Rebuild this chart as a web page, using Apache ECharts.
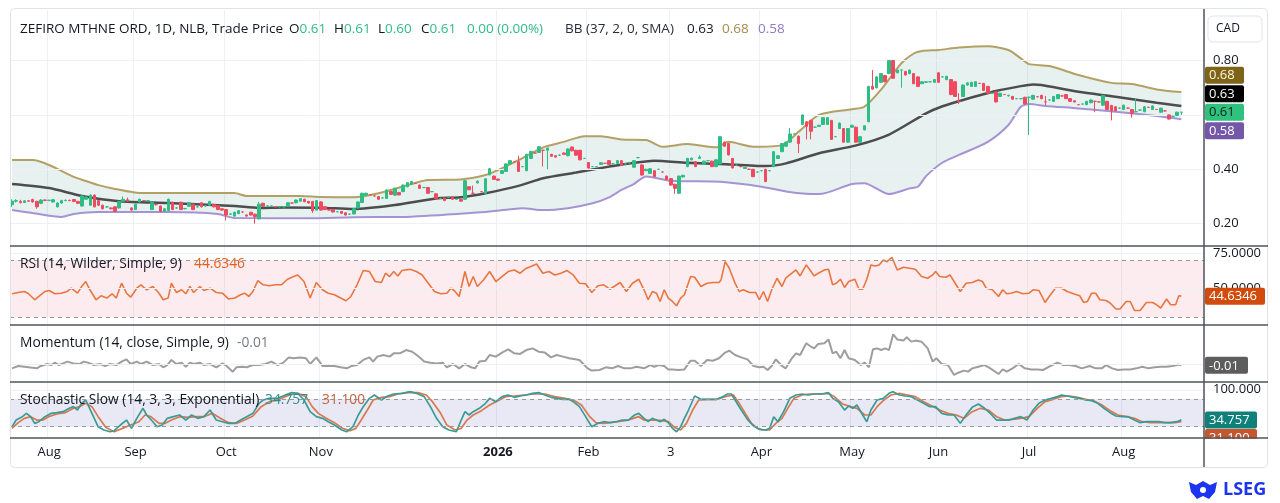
<!DOCTYPE html>
<html>
<head>
<meta charset="utf-8">
<title>ZEFIRO MTHNE ORD</title>
<script src="https://cdn.jsdelivr.net/npm/echarts@6/dist/echarts.min.js"></script>
<style>
  html, body { margin: 0; padding: 0; background: #fff; }
  #chart { width: 1280px; height: 503px; }
</style>
</head>
<body>
<div id="chart"></div>
<script>
// daily candles, one row per trading day: [open, close, low, high]
var candles = [
  [.270,.283,.262,.290],[.283,.285,.278,.290],[.282,.278,.274,.288],[.278,.284,.276,.287],[.284,.283,.280,.286],
  [.289,.280,.278,.292],[.282,.262,.255,.285],[.275,.287,.272,.290],[.287,.286,.283,.289],[.286,.286,.283,.288],
  [.280,.288,.278,.291],[.262,.276,.260,.279],[.276,.285,.274,.288],[.285,.286,.283,.289],[.286,.285,.283,.288],
  [.289,.282,.279,.291],[.282,.275,.272,.284],[.265,.302,.263,.305],[.290,.298,.288,.300],[.268,.305,.266,.308],
  [.305,.262,.260,.308],[.285,.268,.265,.287],[.268,.255,.252,.270],[.262,.262,.259,.264],[.258,.255,.253,.260],
  [.262,.245,.243,.264],[.258,.282,.256,.284],[.282,.290,.280,.300],[.288,.283,.281,.296],[.258,.250,.248,.260],
  [.252,.272,.250,.274],[.280,.290,.278,.292],[.285,.285,.283,.287],[.285,.285,.283,.287],[.252,.279,.250,.281],
  [.270,.270,.268,.272],[.265,.245,.242,.267],[.245,.255,.243,.257],[.248,.290,.246,.292],[.279,.252,.250,.281],
  [.258,.258,.256,.260],[.279,.252,.250,.281],[.255,.256,.253,.258],[.264,.277,.262,.279],[.272,.252,.250,.274],
  [.262,.262,.260,.264],[.277,.262,.260,.279],[.265,.266,.263,.268],[.268,.282,.266,.284],[.271,.262,.260,.273],
  [.267,.252,.250,.269],[.255,.250,.248,.257],[.252,.232,.212,.254],[.235,.236,.233,.238],[.228,.242,.226,.244],
  [.237,.248,.235,.250],[.243,.243,.241,.245],[.232,.228,.226,.234],[.242,.232,.230,.244],[.235,.226,.200,.237],
  [.218,.272,.216,.280],[.275,.264,.262,.277],[.265,.265,.263,.267],[.265,.265,.263,.267],[.262,.262,.260,.264],
  [.262,.262,.260,.264],[.262,.262,.260,.264],[.264,.277,.262,.279],[.276,.276,.274,.278],[.277,.287,.275,.289],
  [.283,.292,.281,.294],[.290,.281,.279,.292],[.282,.276,.274,.284],[.282,.248,.240,.284],[.250,.285,.248,.287],
  [.280,.250,.248,.283],[.262,.252,.250,.264],[.251,.250,.248,.253],[.252,.243,.241,.254],[.244,.244,.242,.246],
  [.245,.238,.236,.247],[.240,.232,.230,.242],[.235,.235,.233,.237],[.236,.255,.234,.257],[.258,.280,.256,.282],
  [.278,.312,.276,.314],[.305,.312,.303,.314],[.306,.306,.304,.308],[.302,.302,.300,.304],[.300,.290,.288,.302],
  [.295,.295,.293,.297],[.293,.324,.291,.326],[.318,.308,.306,.320],[.305,.330,.303,.332],[.315,.306,.304,.317],
  [.318,.342,.316,.344],[.336,.351,.334,.353],[.345,.355,.343,.357],[.348,.348,.346,.350],[.342,.330,.328,.344],
  [.333,.333,.331,.335],[.333,.312,.310,.335],[.318,.318,.316,.320],[.310,.292,.290,.312],[.293,.293,.291,.295],
  [.295,.285,.283,.297],[.297,.297,.295,.299],[.299,.290,.288,.301],[.290,.290,.288,.292],[.289,.283,.281,.291],
  [.290,.358,.288,.360],[.336,.325,.323,.338],[.312,.312,.310,.340],[.350,.356,.348,.360],[.318,.318,.316,.320],
  [.312,.365,.310,.367],[.380,.402,.378,.404],[.375,.363,.361,.377],[.364,.360,.358,.366],[.385,.395,.383,.397],
  [.392,.420,.390,.422],[.420,.432,.418,.434],[.428,.428,.426,.430],[.428,.392,.390,.450],[.410,.410,.408,.412],
  [.395,.455,.393,.457],[.440,.466,.438,.468],[.460,.460,.458,.462],[.462,.483,.460,.485],[.470,.470,.410,.472],
  [.470,.478,.400,.480],[.455,.448,.446,.457],[.450,.445,.443,.452],[.452,.452,.450,.454],[.460,.455,.453,.462],
  [.450,.475,.448,.477],[.482,.468,.466,.484],[.470,.452,.450,.472],[.470,.435,.433,.472],[.440,.440,.438,.442],
  [.425,.405,.403,.427],[.410,.410,.408,.412],[.410,.410,.408,.412],[.418,.424,.416,.426],[.422,.422,.420,.424],
  [.432,.418,.416,.434],[.420,.420,.418,.422],[.422,.432,.420,.434],[.432,.414,.412,.434],[.420,.420,.418,.422],
  [.424,.424,.422,.426],[.408,.432,.406,.434],[.443,.443,.441,.445],[.416,.379,.377,.418],[.395,.400,.393,.402],
  [.385,.402,.383,.404],[.395,.373,.371,.397],[.400,.400,.398,.402],[.390,.390,.388,.392],[.375,.363,.361,.377],
  [.366,.342,.340,.368],[.345,.330,.310,.347],[.312,.375,.310,.377],[.372,.378,.370,.380],[.410,.440,.408,.442],
  [.435,.441,.433,.443],[.428,.410,.408,.430],[.440,.445,.438,.452],[.420,.430,.418,.432],[.432,.432,.430,.434],
  [.430,.410,.408,.432],[.410,.435,.408,.437],[.420,.520,.418,.522],[.500,.485,.483,.502],[.495,.453,.451,.497],
  [.440,.405,.403,.442],[.415,.415,.413,.417],[.410,.410,.408,.412],[.403,.407,.401,.409],[.400,.400,.398,.402],
  [.400,.373,.371,.402],[.390,.390,.388,.392],[.395,.395,.393,.397],[.400,.355,.353,.402],[.395,.395,.393,.397],
  [.410,.465,.408,.467],[.440,.450,.438,.452],[.465,.495,.463,.497],[.485,.500,.483,.502],[.500,.530,.498,.552],
  [.530,.530,.528,.532],[.522,.495,.460,.524],[.565,.600,.563,.602],[.575,.558,.510,.577],[.580,.540,.510,.582],
  [.555,.555,.553,.557],[.558,.562,.556,.564],[.565,.590,.563,.592],[.565,.590,.563,.592],[.580,.510,.508,.582],
  [.520,.520,.518,.522],[.550,.570,.548,.572],[.550,.500,.498,.552],[.500,.550,.498,.552],[.555,.562,.553,.564],
  [.555,.500,.498,.557],[.500,.520,.498,.522],[.545,.560,.543,.562],[.575,.705,.573,.707],[.705,.695,.693,.765],
  [.700,.740,.698,.742],[.720,.752,.718,.754],[.745,.722,.720,.747],[.752,.800,.750,.802],[.800,.735,.733,.802],
  [.755,.765,.753,.767],[.765,.765,.700,.768],[.760,.747,.745,.762],[.752,.765,.750,.767],[.752,.715,.713,.754],
  [.740,.705,.703,.742],[.715,.722,.713,.724],[.720,.722,.718,.724],[.722,.722,.720,.724],[.720,.730,.718,.732],
  [.755,.720,.718,.757],[.740,.740,.738,.742],[.730,.742,.728,.744],[.730,.675,.673,.732],[.722,.668,.666,.724],
  [.650,.650,.640,.680],[.668,.710,.666,.712],[.710,.718,.708,.720],[.705,.720,.703,.722],[.705,.722,.703,.724],
  [.716,.716,.714,.718],[.716,.690,.688,.718],[.705,.680,.678,.707],[.680,.680,.678,.682],[.685,.648,.646,.687],
  [.668,.680,.666,.682],[.675,.675,.673,.677],[.670,.672,.668,.674],[.668,.658,.656,.670],[.660,.660,.658,.662],
  [.660,.660,.658,.662],[.665,.640,.638,.667],[.665,.665,.526,.667],[.658,.672,.656,.674],[.667,.667,.665,.669],
  [.672,.660,.658,.674],[.648,.648,.635,.670],[.655,.655,.653,.657],[.650,.668,.648,.670],[.660,.675,.658,.677],
  [.670,.670,.668,.672],[.675,.660,.658,.677],[.660,.650,.648,.662],[.652,.648,.646,.654],[.638,.638,.636,.640],
  [.640,.640,.638,.642],[.638,.650,.636,.652],[.645,.655,.643,.657],[.650,.650,.610,.652],[.648,.648,.646,.650],
  [.636,.672,.634,.674],[.650,.620,.618,.652],[.635,.615,.580,.637],[.630,.615,.613,.632],[.625,.625,.623,.627],
  [.620,.636,.618,.638],[.625,.625,.623,.627],[.620,.605,.590,.622],[.612,.612,.610,.660],[.618,.618,.616,.620],
  [.612,.630,.610,.632],[.628,.628,.626,.630],[.620,.633,.618,.635],[.620,.620,.618,.622],[.610,.625,.608,.627],
  [.615,.615,.613,.617],[.600,.585,.583,.602],[.595,.595,.593,.597],[.598,.610,.596,.612],[.610,.610,.600,.610]
];

// Bollinger band (37, 2) lines: [bar index, price]
var bbUpper = [[0,.434],[5,.434],[9,.416],[15,.372],[18,.357],[21,.342],[25,.328],[31,.313],[54,.313],[57,.302],
  [70,.302],[75,.298],[83,.297],[89,.312],[97,.346],[101,.361],[109,.363],[115,.379],[118,.397],[123,.434],
  [129,.481],[134,.501],[139,.522],[143,.522],[148,.510],[154,.508],[158,.483],[164,.493],[171,.481],[174,.501],
  [180,.483],[187,.489],[191,.538],[196,.600],[204,.621],[207,.630],[211,.692],[216,.790],[219,.826],[221,.835],
  [225,.839],[230,.848],[237,.853],[242,.839],[245,.808],[247,.787],[252,.780],[259,.747],[267,.718],[272,.714],
  [278,.694],[284,.684]];
var bbMiddle = [[0,.346],[9,.331],[17,.302],[26,.283],[38,.276],[54,.265],[60,.258],[66,.260],[75,.259],[83,.254],
  [93,.269],[103,.293],[109,.297],[115,.312],[123,.339],[129,.367],[137,.388],[145,.410],[149,.420],[156,.432],
  [164,.424],[172,.420],[183,.412],[188,.422],[196,.459],[205,.488],[213,.528],[222,.606],[226,.632],[231,.655],
  [239,.688],[245,.706],[248,.712],[250,.710],[259,.685],[268,.667],[278,.645],[284,.633]];
var bbLower = [[0,.250],[5,.239],[12,.225],[15,.236],[21,.243],[38,.243],[50,.236],[54,.221],[72,.220],[83,.224],
  [97,.226],[113,.241],[121,.253],[124,.257],[129,.250],[135,.257],[141,.275],[145,.297],[148,.324],[151,.346],
  [154,.374],[160,.358],[172,.354],[182,.336],[190,.314],[196,.309],[204,.346],[207,.349],[213,.309],[218,.330],
  [220,.336],[222,.375],[226,.425],[230,.453],[237,.501],[242,.563],[245,.630],[247,.640],[251,.633],[259,.624],
  [268,.612],[278,.596],[284,.584]];

// RSI (14) : [bar index, value]
var rsi = [[0,46.3],[1.5,47.2],[3,47.9],[4,46.3],[5.5,42.1],[6.5,44.4],[8,47.9],[9,48.6],[10.4,46.3],[11.9,46.7],
  [13.4,47.9],[14.4,50.2],[15.9,46.7],[16.9,51.4],[17.9,54.9],[18.9,49.1],[20.4,42.1],[21.6,44.9],[23,43.3],[24.3,46.3],
  [25.3,43.3],[26.6,53.7],[27.8,46.7],[28.8,43.9],[30.3,50.2],[31.3,52.6],[32.7,49.1],[34.2,51.4],[35.7,46.7],[36.7,42.1],
  [37.9,43.3],[38.7,53.7],[39.9,47.2],[41.2,49.1],[42.2,46.3],[43.2,51.4],[44.1,47.2],[45.6,51.4],[46.6,48.6],[48.1,50.2],
  [49.6,47.2],[51.1,46.7],[52.6,42.6],[54.1,43.3],[55.5,45.6],[56.5,46.7],[57.5,44.4],[58.5,47.9],[59.7,55.6],[61,52.6],
  [62.5,51.9],[63.9,52.6],[65.4,52.6],[66.9,56.5],[68.4,58.4],[69.4,59.5],[70.9,54.9],[72.4,43.3],[73.9,54.2],[75.4,49.1],
  [76.8,46.7],[78.3,45.6],[79.8,43.3],[81.1,41.4],[82.3,44.4],[83.8,52.6],[85.3,62.6],[86.8,61.9],[88.2,54.9],[89.7,54.2],
  [90.7,60.7],[91.7,58.4],[92.7,61.9],[93.7,58.8],[94.7,62.6],[96.7,63.5],[98.2,61.9],[99.6,59.5],[101.1,53.7],[102.6,47.9],
  [104.1,46.3],[105.6,46.7],[106.6,50.2],[107.6,47.9],[108.6,44.4],[110,61.9],[111,51.4],[112,58.4],[113,51.4],[114.5,56],
  [116,61.9],[117.5,54.9],[119,58.4],[120.5,61.9],[122,63],[123.4,60.7],[124.9,64.2],[125.9,65.3],[127.4,67.2],[128.9,60.7],
  [130.4,61.9],[131.8,59.5],[133.3,60.7],[134.8,62.6],[136.3,59.5],[137.8,53.7],[139.3,53.3],[140.8,47.2],[142.3,51.9],[143.7,52.6],
  [145.2,49.5],[146.2,51.4],[147.7,54.2],[149.2,47.9],[150.7,53.7],[152.2,56.5],[153.5,49.1],[154.5,42.1],[155.5,47.9],[156.5,46.7],
  [157.4,40.9],[158.4,49.1],[159.4,43.3],[160.4,40.9],[161.4,37.9],[162.4,43.3],[163.3,45.6],[164.8,58.4],[165.8,57.9],[167.3,51.4],
  [168.8,53.7],[170.2,54.2],[171.7,54.2],[172.2,56],[173.2,68.8],[174.2,64.2],[175.6,53.7],[176.6,47.9],[177.6,49.1],[179.1,47.2],
  [180.6,47.2],[181.5,42.1],[182.5,47.9],[183.5,40.9],[184.5,49.1],[185.8,57.2],[187,51.4],[187.9,57.2],[189.4,60.7],[190.4,63],
  [191.4,58.8],[192.9,66.5],[193.8,63],[194.8,58.8],[195.8,60.7],[197.3,63],[198.3,63.5],[199.3,52.6],[200.2,53.7],[201.2,56.5],
  [202.2,50.7],[203.2,54.9],[204.7,56.5],[205.7,49.5],[206.6,49.5],[207.6,56.5],[208.6,66.5],[209.6,65.8],[210.6,66.5],[211.6,70],
  [212.5,68.8],[213.7,71.9],[215,63],[216.5,64.9],[218,64.2],[219.4,63.5],[220.9,58.4],[222.4,57.2],[223.6,59.5],[224.3,61.9],
  [225.3,58.4],[226.8,57.9],[227.8,59.5],[228.8,54.9],[230.3,47.9],[231.7,53.7],[233.2,54.2],[234.7,56],[235.7,54.9],[236.6,50.2],
  [238.1,49.1],[239.6,44.4],[240.6,49.1],[241.6,46.3],[242.6,46.7],[244,47.9],[245.5,46.3],[247,46.7],[248,49.1],[249.4,48.6],
  [250.9,40.2],[251.9,44.4],[253.4,50.2],[254.9,50.2],[256.3,47.9],[257.8,46.3],[259.3,44.9],[260.3,40.2],[261.2,40.9],[262.2,46.7],
  [263.2,46.7],[264.2,42.1],[265.7,41.6],[266.7,39.8],[268.1,35.6],[269.1,35.6],[270.6,40.9],[271.6,40.9],[272.6,34.6],[274,34.6],
  [275.5,40.2],[277,40.2],[278,38.6],[279,36.3],[280.4,42.6],[281.4,38.6],[282.6,38.6],[283.4,44.9],[284,44.6346]];

// Momentum (14) : [bar index, value]
var momentum = [[0,-.029],[1.5,-.013],[3,-.018],[4.5,-.024],[6,-.029],[7,-.013],[8.5,0],[9.5,-.007],[10.4,.009],[11.4,-.007],
  [12.4,.004],[13.4,.016],[14.9,.004],[16.4,0],[17.4,.016],[18.4,.009],[19.9,-.007],[21.4,0],[22.6,-.013],[23.8,0],
  [25.3,-.007],[26.6,.016],[27.8,.031],[28.8,0],[30.3,.016],[31.3,0],[32.7,.016],[34.2,-.007],[35.7,0],[36.7,-.022],
  [37.7,-.007],[38.7,.027],[39.9,0],[41.2,.009],[42.2,-.018],[43.2,.009],[44.1,0],[45.6,.009],[46.6,-.007],[48.1,0],
  [49.6,-.022],[51.1,.004],[52.1,-.013],[53.6,-.051],[54.5,-.022],[56,-.018],[57,-.022],[58.5,-.007],[60,-.007],[61.5,0],
  [63,.016],[64.5,-.007],[65.9,.009],[67.2,.044],[68.4,.038],[69.9,.044],[71.4,.038],[72.4,0],[73.9,.044],[75.4,-.013],
  [76.8,-.013],[78.3,-.013],[79.8,-.022],[81.3,-.029],[82.5,-.013],[83.8,-.007],[85.3,.027],[86.8,.044],[87.7,.016],[88.7,.049],
  [90.2,.06],[91.7,.049],[92.7,.071],[94.2,.071],[95.7,.093],[97.2,.082],[98.6,.053],[100.1,.016],[101.6,.009],[103.1,.004],
  [104.6,.009],[105.6,-.022],[107.1,0],[108.6,-.029],[110,0],[111.5,-.022],[112.5,-.029],[113.5,.016],[115,.022],[116,.06],
  [117.5,.049],[119,.076],[120.5,.098],[122,.071],[123.4,.067],[124.9,.093],[126.4,.104],[127.9,.082],[129.4,.076],[130.9,.044],
  [132.3,.06],[133.8,.049],[135.3,.038],[136.8,.031],[137.8,.027],[139.8,-.029],[140.8,-.044],[142.7,-.04],[144.2,-.022],[145.7,-.029],
  [147.2,-.013],[148.7,-.029],[150.2,-.029],[151.7,-.018],[153.5,-.029],[155,-.007],[156,-.018],[157,-.007],[158.4,-.013],[159.4,-.036],
  [160.4,-.036],[161.9,-.04],[163.3,-.036],[164.8,.022],[165.8,.022],[167.3,-.013],[168.8,.027],[170.2,.022],[171.7,.038],[173.2,.076],
  [174.2,.089],[175.6,.06],[177.1,.044],[178.6,.031],[180.1,-.013],[181.5,-.022],[182.5,-.018],[183.5,-.04],[184.5,-.013],[185.5,.031],
  [187,-.013],[187.9,-.029],[189.4,.038],[190.4,.071],[191.4,.06],[192.9,.138],[193.8,.12],[194.8,.104],[195.8,.133],[197.3,.138],
  [198.3,.164],[199.3,.071],[200.2,.082],[201.2,.038],[202.2,.093],[203.2,.038],[204.7,.027],[206.1,-.007],[207.1,.009],[208.1,-.022],
  [209.1,.098],[210.1,.104],[211.1,.093],[212.1,.104],[213,.093],[214,.198],[215,.164],[216.5,.156],[217.3,.178],[218.4,.149],
  [219.4,.156],[220.9,.149],[222.4,.104],[223.6,.016],[224.5,.038],[225.8,0],[227.3,-.007],[228.8,-.073],[229.8,-.058],[231.2,-.044],
  [232.2,-.051],[233.2,-.029],[234.7,-.018],[236.2,-.007],[237.6,-.029],[239.6,-.067],[240.6,-.036],[241.6,-.051],[243,-.029],[244.5,0],
  [246,-.029],[247.5,-.036],[249,-.036],[250.4,-.04],[251.9,-.018],[253.9,.009],[255.3,-.007],[256.8,-.007],[258.3,-.013],[259.8,-.029],
  [261.7,-.013],[263.2,-.029],[264.7,-.029],[265.7,-.007],[267.2,-.029],[268.6,-.04],[270.1,-.036],[271.6,-.036],[273.1,-.029],[274.5,-.018],
  [276,-.029],[277.5,-.022],[279,-.018],[280.4,-.018],[281.9,-.013],[283.4,-.004],[284,-.009]];

// Stochastic slow (14, 3, 3) %K and %D : [bar index, value]
var stochK = [[0,20],[1,34.4],[2.5,41.7],[3.5,48.9],[4.5,41.7],[5.5,27.2],[6.5,30.8],[8,41.7],[9.5,48.9],[10.9,50.4],
  [12.4,52.5],[13.9,59.8],[14.9,63.4],[15.9,56.1],[16.9,70.6],[17.9,77.8],[19.4,48.9],[20.9,20],[22.3,12.8],[23.8,9.1],
  [24.8,11.3],[26.3,23.6],[27.8,34.4],[29,16.4],[30.3,38.1],[31.8,59.8],[32.7,45.3],[34.2,30.8],[35.2,20],[36.5,23.6],
  [37.7,38.1],[39.2,41.7],[40.7,45.3],[42.2,34.4],[43.6,45.3],[45.1,38.1],[46.6,41.7],[48.1,56.1],[49.6,34.4],[51.1,30.8],
  [52.6,27.2],[54.1,27.2],[55.5,34.4],[57,41.7],[58.5,48.9],[60,70.6],[61,77.8],[62.5,81.4],[64.5,81.4],[66.4,88.7],
  [67.9,93.7],[69.4,92.3],[70.9,77.8],[72.4,52.5],[73.9,41.7],[75.4,38.1],[76.8,30.8],[78.3,23.6],[80.1,12.8],[81.3,9.1],
  [82.8,20],[84.1,45.3],[85.3,63.4],[86.8,81.4],[88,88.7],[89.7,77.8],[91.2,86.5],[92.7,90.8],[94.7,92.3],[96.7,95.9],
  [98.2,92.3],[100.1,85.1],[101.6,63.4],[103.1,38.1],[104.6,20],[106.1,12.8],[107.9,9.1],[109.1,34.4],[110,52.5],[111,45.3],
  [112,52.5],[113.5,59.8],[115,70.6],[116,81.4],[117.5,74.2],[119,85.1],[120.5,88.7],[122,83.6],[123.4,86.5],[124.9,88.7],
  [126.4,92.3],[127.9,93.7],[129.4,88.7],[130.9,83.6],[132.3,81.4],[133.8,79.3],[135.3,79.3],[136.3,74.2],[137.8,63.4],[139.3,41.7],
  [140.8,20],[142.3,27.2],[143.7,30.8],[145.2,28.7],[146.7,30.8],[148.2,34.4],[149.7,34.4],[151.2,45.3],[152.2,48.9],[153.5,38.1],
  [154.5,30.8],[155.5,38.1],[156.5,34.4],[157.4,30.8],[158.4,35.9],[159.4,28.7],[160.4,16.4],[161.4,9.1],[162.4,20],[163.3,38.1],
  [164.3,56.1],[165.8,86.5],[167.3,79.3],[169.2,79.3],[171.2,79.3],[172.7,85.1],[173.7,90.8],[174.7,90.8],[175.6,77.8],[177.1,56.1],
  [178.6,35.9],[180.1,21.4],[181.5,14.2],[183,12.8],[184,16.4],[185,41.7],[186,30.8],[187.4,52.5],[188.9,81.4],[190.4,88.7],
  [191.9,90.8],[193.4,88.7],[194.8,90.8],[196.8,90.8],[198.3,93.7],[199.3,81.4],[200.7,74.2],[202.2,56.1],[203.2,64.8],[204.2,59.8],
  [205.2,67],[206.6,45.3],[207.6,30.8],[208.6,56.1],[210.1,77.8],[211.6,81.4],[213,92.3],[214,95.9],[215.5,88.7],[217,86.5],
  [218.4,85.1],[219.9,77.8],[221.4,70.6],[222.9,63.4],[224.3,63.4],[225.8,48.9],[227.3,45.3],[228.8,45.3],[230.3,27.2],[231.7,45.3],
  [233.2,61.9],[234.7,69.2],[236.2,59.8],[237.6,48.9],[239.1,34.4],[240.6,34.4],[242.1,34.4],[243.5,38.1],[245,41.7],[246.5,34.4],
  [248,56.1],[249.4,70.6],[250.9,77.8],[252.4,81.4],[253.9,85.1],[254.9,88.7],[256.3,86.5],[257.8,83.6],[259.3,81.4],[260.8,77.8],
  [262.2,76.4],[263.7,70.6],[265.2,59.8],[266.7,50.4],[268.1,43.1],[269.6,41.7],[271.1,41.7],[272.6,34.4],[274,28.7],[275.5,30.8],
  [277,30.8],[278.5,30.8],[280,28.7],[281.4,28.7],[282.9,30.8],[284,34.757]];
var stochD = [[0,16.4],[1.5,28.7],[3,38.1],[4.5,41.7],[6,34.4],[7.5,34.4],[8.9,41.7],[10.9,47.5],[12.9,50.4],[14.9,59.8],
  [16.4,63.4],[17.9,70.6],[19.4,63.4],[20.9,41.7],[22.8,18.5],[24.8,9.1],[26.8,16.4],[28.8,23.6],[30.8,30.8],[32.3,45.3],
  [33.7,41.7],[35.7,27.2],[37.2,27.2],[38.7,34.4],[40.7,41.7],[42.7,40.2],[44.6,41.7],[46.6,41.7],[48.6,48.9],[50.6,38.1],
  [52.6,28.7],[54.5,27.2],[56.5,34.4],[58.5,43.1],[60.5,63.4],[62.5,74.2],[64.9,79.3],[67.4,88.7],[69.4,92.3],[71.4,85.1],
  [72.9,63.4],[74.4,48.9],[76.3,38.1],[78.3,28.7],[80.3,16.4],[82.1,11.3],[83.5,16.4],[84.8,34.4],[86.3,56.1],[87.7,77.8],
  [89.7,83.6],[91.7,85.1],[93.7,90.8],[96.2,93.7],[98.6,93.7],[100.6,88.7],[102.1,74.2],[104.1,48.9],[105.6,23.6],[107.6,12.8],
  [109.1,16.4],[110.5,34.4],[112,45.3],[114,54.7],[116,67],[118,76.4],[119.9,85.1],[121.9,86.5],[124.4,88.7],[126.9,90.8],
  [129.4,90.8],[131.8,85.1],[134.3,81.4],[136.3,77.8],[138.3,67],[140.3,41.7],[141.8,28.7],[143.7,27.2],[146.7,30.1],[149.7,34.4],
  [152.2,41.7],[153.5,34.4],[155,34.4],[156.5,34.4],[157.9,33],[159.4,30.8],[160.9,18.5],[162.4,12.8],[163.8,27.2],[165.3,56.1],
  [166.8,77.8],[168.8,79.3],[171.2,79.3],[173.2,85.1],[175.2,88.7],[176.6,70.6],[178.1,48.9],[179.6,27.2],[181.1,16.4],[182.5,12.8],
  [184,12.8],[185.5,27.2],[187,38.1],[188.4,59.8],[189.9,81.4],[191.9,88.7],[193.8,90.8],[195.8,90.8],[198.3,92.3],[199.7,85.1],
  [201.7,69.2],[203.7,63.4],[205.2,59.8],[207.1,45.3],[208.6,45.3],[210.1,63.4],[211.6,76.4],[213.5,88.7],[215.5,92.3],[217.5,88.7],
  [219.4,85.1],[221.4,74.2],[223.4,64.8],[225.3,56.1],[227.3,48.9],[229.3,45.3],[231.2,38.1],[233.2,52.5],[235.2,59.8],[237.1,56.1],
  [239.1,41.7],[241.1,34.4],[243,35.9],[245,38.1],[247,41.7],[249,59.8],[250.9,74.2],[252.9,79.3],[254.9,85.1],[256.8,86.5],
  [258.8,83.6],[260.8,79.3],[262.7,76.4],[264.7,67],[266.7,54.7],[268.6,45.3],[270.6,41.7],[272.6,38.1],[274.5,30.8],[276.5,28.7],
  [278.5,28.7],[280.4,28.7],[282.4,28.7],[284,31.1]];

var priceTicks = [0.2, 0.4, 0.6, 0.8];
var rsiTicks = [50, 75];
var stochTicks = [100];
var monthNames = ['Jan','Feb','Mar','Apr','May','Jun','Jul','Aug','Sep','Oct','Nov','Dec'];

// trading days (weekdays) from 21 Jul 2025, plus a few empty days of right margin
var dates = [];
var day = new Date(Date.UTC(2025, 6, 21));
while (dates.length < candles.length + 5) {
  var wd = day.getUTCDay();
  if (wd !== 0 && wd !== 6) dates.push(day.toISOString().slice(0, 10));
  day.setUTCDate(day.getUTCDate() + 1);
}
var N = dates.length;

function monthStart(i) {
  if (i === 0 || i >= N) return false;
  var m = dates[i].slice(5, 7);
  return m !== dates[i - 1].slice(5, 7) && m !== '12';
}

var FONT = "'Open Sans', sans-serif";
var TXT = '#131722';
var UP = '#2ebd85', DOWN = '#ef4a60';
var GRID_C = '#eef0f5';

var chart = echarts.init(document.getElementById('chart'));

var panels = [
  { top: 10, height: 236 },
  { top: 246, height: 79 },
  { top: 325, height: 57 },
  { top: 382, height: 56 }
];

var xAxes = [], yAxes = [];
panels.forEach(function (p, i) {
  xAxes.push({
    type: 'category', gridIndex: i, data: dates, boundaryGap: true,
    axisLine: { show: false }, axisTick: { show: false },
    axisLabel: i === 3 ? {
      interval: function (idx) { return monthStart(idx); },
      color: TXT, fontSize: 13, fontFamily: FONT, margin: 8,
      formatter: function (v) {
        var m = +v.slice(5, 7);
        if (m === 1) return '{b|' + v.slice(0, 4) + '}';
        if (m === 3) return '3';
        return monthNames[m - 1];
      },
      rich: { b: { fontWeight: 'bold', fontSize: 13, fontFamily: FONT, color: TXT } }
    } : { show: false },
    splitLine: { show: true, interval: function (idx) { return monthStart(idx); }, lineStyle: { color: GRID_C, width: 1 } }
  });
});
panels.forEach(function (p, i) {
  xAxes.push({ type: 'value', gridIndex: i, min: -0.5, max: N - 0.5, show: false });
});

function yAx(i, min, max, ticks, fmt) {
  return {
    type: 'value', gridIndex: i, position: 'right', min: min, max: max,
    splitLine: { show: false }, axisLine: { show: false }, axisTick: { show: false },
    axisLabel: ticks ? {
      customValues: ticks, formatter: fmt, color: TXT, fontSize: 13, fontFamily: FONT, margin: 9
    } : { show: false }
  };
}
yAxes.push(yAx(0, 0.118, 0.986, priceTicks, function (v) { return v.toFixed(2); }));
yAxes.push(yAx(1, 24.4, 79.8, rsiTicks, function (v) { return v.toFixed(4); }));
yAxes.push(yAx(2, -0.12, 0.26, null));
yAxes.push(yAx(3, -4.5, 116.8, stochTicks, function (v) { return v.toFixed(3); }));

function hLines(items) {
  return {
    silent: true, symbol: ['none', 'none'], animation: false, label: { show: false },
    data: items.map(function (it) {
      return { yAxis: it[0], lineStyle: it[1] ? { color: '#9598a1', type: [4, 4], width: 1 } : { color: GRID_C, type: 'solid', width: 1 } };
    })
  };
}

function lineSeries(name, xi, yi, data, color, width, z) {
  return {
    type: 'line', name: name, xAxisIndex: xi, yAxisIndex: yi, data: data,
    symbol: 'none', silent: true, z: z || 2,
    lineStyle: { color: color, width: width }
  };
}

var bbUp = lineSeries('BB upper', 4, 0, bbUpper, '#b3a064', 2);
bbUp.smooth = 0.25;
var bbMid = lineSeries('BB basis', 4, 0, bbMiddle, '#4d4d4d', 2.5);
bbMid.smooth = 0.25;
var bbLow = lineSeries('BB lower', 4, 0, bbLower, '#a693d3', 2);
bbLow.smooth = 0.25;
bbLow.markLine = hLines(priceTicks.map(function (t) { return [t, false]; }));

var rsiS = lineSeries('RSI', 5, 1, rsi, '#e8763f', 1.6);
rsiS.markArea = { silent: true, itemStyle: { color: 'rgba(240,80,110,0.11)' }, data: [[{ yAxis: 30 }, { yAxis: 70 }]] };
rsiS.markLine = hLines([[75, false], [50, false], [70, true], [30, true]]);

var momS = lineSeries('Momentum', 6, 2, momentum, '#9e9e9e', 2);
momS.markLine = hLines([[0, false]]);

var dS = lineSeries('%D', 7, 3, stochD, '#d9784f', 1.7);
var kS = lineSeries('%K', 7, 3, stochK, '#3a9a95', 1.7, 3);
kS.markArea = { silent: true, itemStyle: { color: 'rgba(100,100,190,0.14)' }, data: [[{ yAxis: 20 }, { yAxis: 80 }]] };
kS.markLine = hLines([[100, false], [80, true], [20, true]]);

chart.setOption({
  animation: false,
  backgroundColor: '#ffffff',
  grid: panels.map(function (p) { return { left: 10, right: 76, top: p.top, height: p.height }; }),
  xAxis: xAxes,
  yAxis: yAxes,
  series: [
    {
      type: 'custom', name: 'BB fill', xAxisIndex: 4, yAxisIndex: 0, clip: true, silent: true, z: 1,
      data: [[0, 0]],
      renderItem: function (params, api) {
        var pts = bbUpper.map(function (p) { return api.coord(p); });
        for (var i = bbLower.length - 1; i >= 0; i--) pts.push(api.coord(bbLower[i]));
        return { type: 'polygon', shape: { points: pts }, style: { fill: 'rgba(46,140,130,0.12)' } };
      }
    },
    bbLow, bbUp, bbMid,
    {
      type: 'candlestick', name: 'Price', xAxisIndex: 0, yAxisIndex: 0, data: candles,
      barWidth: 3, z: 5, silent: true,
      itemStyle: { color: UP, color0: DOWN, borderColor: UP, borderColor0: DOWN, borderWidth: 1 }
    },
    rsiS, momS, dS, kS
  ]
});

// ---- overlay: header, price scale tags, frame ----
var last = candles[candles.length - 1];
var prevClose = candles[candles.length - 2][1];
var chg = last[1] - prevClose;
var g = [];
function txt(x, y, s, color, extra) {
  var o = { type: 'text', z: 110, silent: true, style: { text: s, x: x, y: y, fill: color, font: '13.5px ' + FONT, verticalAlign: 'middle' } };
  if (extra) for (var k in extra) o.style[k] = extra[k];
  return o;
}
function lastVal(a) { return a[a.length - 1][1]; }

g.push({ type: 'rect', z: 100, silent: true, shape: { x: 10.5, y: 8.5, width: 1257, height: 459, r: 4 }, style: { fill: 'none', stroke: '#e0e3eb', lineWidth: 1 } });

var hdrY = 29;
g.push(txt(20, hdrY, 'ZEFIRO MTHNE ORD, 1D, NLB, Trade Price', TXT));
var rich = { g: { fill: UP, font: '13.5px ' + FONT } };
g.push(txt(289, hdrY, 'O{g|' + last[0].toFixed(2) + '}', TXT, { rich: rich }));
g.push(txt(334, hdrY, 'H{g|' + last[3].toFixed(2) + '}', TXT, { rich: rich }));
g.push(txt(378, hdrY, 'L{g|' + last[2].toFixed(2) + '}', TXT, { rich: rich }));
g.push(txt(421, hdrY, 'C{g|' + last[1].toFixed(2) + '}', TXT, { rich: rich }));
g.push(txt(467, hdrY, Math.abs(chg).toFixed(2) + ' (' + Math.abs(chg / prevClose * 100).toFixed(2) + '%)', UP));
g.push(txt(565, hdrY, 'BB (37, 2, 0, SMA)', '#2a2e39'));
g.push(txt(687, hdrY, lastVal(bbMiddle).toFixed(2), TXT));
g.push(txt(722, hdrY, lastVal(bbUpper).toFixed(2), '#a48b4d'));
g.push(txt(758, hdrY, lastVal(bbLower).toFixed(2), '#8f7bc4'));

var PF = '13.8px ' + FONT;
g.push(txt(20, 264, 'RSI (14, Wilder, Simple, 9)', TXT, { font: PF }));
g.push(txt(194, 264, lastVal(rsi).toFixed(4), '#e0601f', { font: PF }));
g.push(txt(20, 343, 'Momentum (14, close, Simple, 9)', TXT, { font: PF }));
g.push(txt(237, 343, lastVal(momentum).toFixed(2), '#787b86', { font: PF }));
g.push(txt(20, 400, 'Stochastic Slow (14, 3, 3, Exponential)', TXT, { font: PF }));
g.push(txt(265, 400, lastVal(stochK).toFixed(3), '#2e8f8a', { font: PF }));
g.push(txt(322, 400, lastVal(stochD).toFixed(3), '#c8603a', { font: PF }));

// CAD box
g.push({ type: 'rect', z: 100, silent: true, shape: { x: 1208, y: 16, width: 54, height: 26, r: 5 }, style: { fill: '#fff', stroke: '#e0e3eb', lineWidth: 1 } });
g.push(txt(1216, 29, 'CAD', TXT, { font: '12px ' + FONT }));

function tag(y, s, bg, fg, w) {
  g.push({ type: 'rect', z: 120, silent: true, shape: { x: 1205, y: y - 8.5, width: w, height: 17, r: 2 }, style: { fill: bg } });
  g.push({ type: 'text', z: 121, silent: true, style: { text: s, x: 1209, y: y + 0.5, fill: fg, font: '13px ' + FONT, verticalAlign: 'middle' } });
}
function py(axis, v) { return chart.convertToPixel({ yAxisIndex: axis }, v); }

var yClose = py(0, last[1]);
var yMid = Math.min(py(0, lastVal(bbMiddle)), yClose - 18.5);
var yUp = Math.min(py(0, lastVal(bbUpper)), yMid - 18.5);
var yLow = Math.max(py(0, lastVal(bbLower)), yClose + 18.5);
tag(yUp, lastVal(bbUpper).toFixed(2), '#7d6418', '#fff6dc', 39);
tag(yMid, lastVal(bbMiddle).toFixed(2), '#000000', '#ffffff', 39);
tag(yClose, last[1].toFixed(2), '#2fc27f', '#0b1f17', 39);
tag(yLow, lastVal(bbLower).toFixed(2), '#7557a8', '#ffffff', 39);

tag(py(1, lastVal(rsi)), lastVal(rsi).toFixed(4), '#d14b0c', '#ffffff', 60);
tag(py(2, lastVal(momentum)), lastVal(momentum).toFixed(2), '#5d5d5d', '#ffffff', 43);
var yK = py(3, lastVal(stochK));
var yD = Math.max(py(3, lastVal(stochD)), yK + 17.5);
tag(yK, lastVal(stochK).toFixed(3), '#10807a', '#ffffff', 52);
tag(yD, lastVal(stochD).toFixed(3), '#c4572e', '#ffffff', 52);
// the lowest tag is cut by the pane border
g.push({ type: 'rect', z: 125, silent: true, shape: { x: 1205, y: 438.8, width: 62, height: 12 }, style: { fill: '#ffffff' } });

[246, 325, 382, 438].forEach(function (y) {
  g.push({ type: 'line', z: 130, silent: true, shape: { x1: 10, y1: y, x2: 1268, y2: y }, style: { stroke: '#50535e', lineWidth: 1.5 } });
});
g.push({ type: 'line', z: 130, silent: true, shape: { x1: 1204, y1: 9, x2: 1204, y2: 467 }, style: { stroke: '#50535e', lineWidth: 1.5 } });

// LSEG mark
var blue = '#1c34f2';
g.push({ type: 'polygon', z: 110, silent: true, shape: { points: [[1189, 482], [1196, 485], [1203, 481], [1210, 485], [1217, 482], [1215, 492], [1209, 499], [1203, 496], [1197, 499], [1191, 492]] }, style: { fill: blue } });
g.push({ type: 'circle', z: 111, silent: true, shape: { cx: 1203, cy: 490, r: 3 }, style: { fill: '#ffffff' } });
g.push(txt(1223, 490, 'LSEG', blue, { font: 'bold 18px ' + FONT }));

chart.setOption({ graphic: g });
</script>
</body>
</html>
